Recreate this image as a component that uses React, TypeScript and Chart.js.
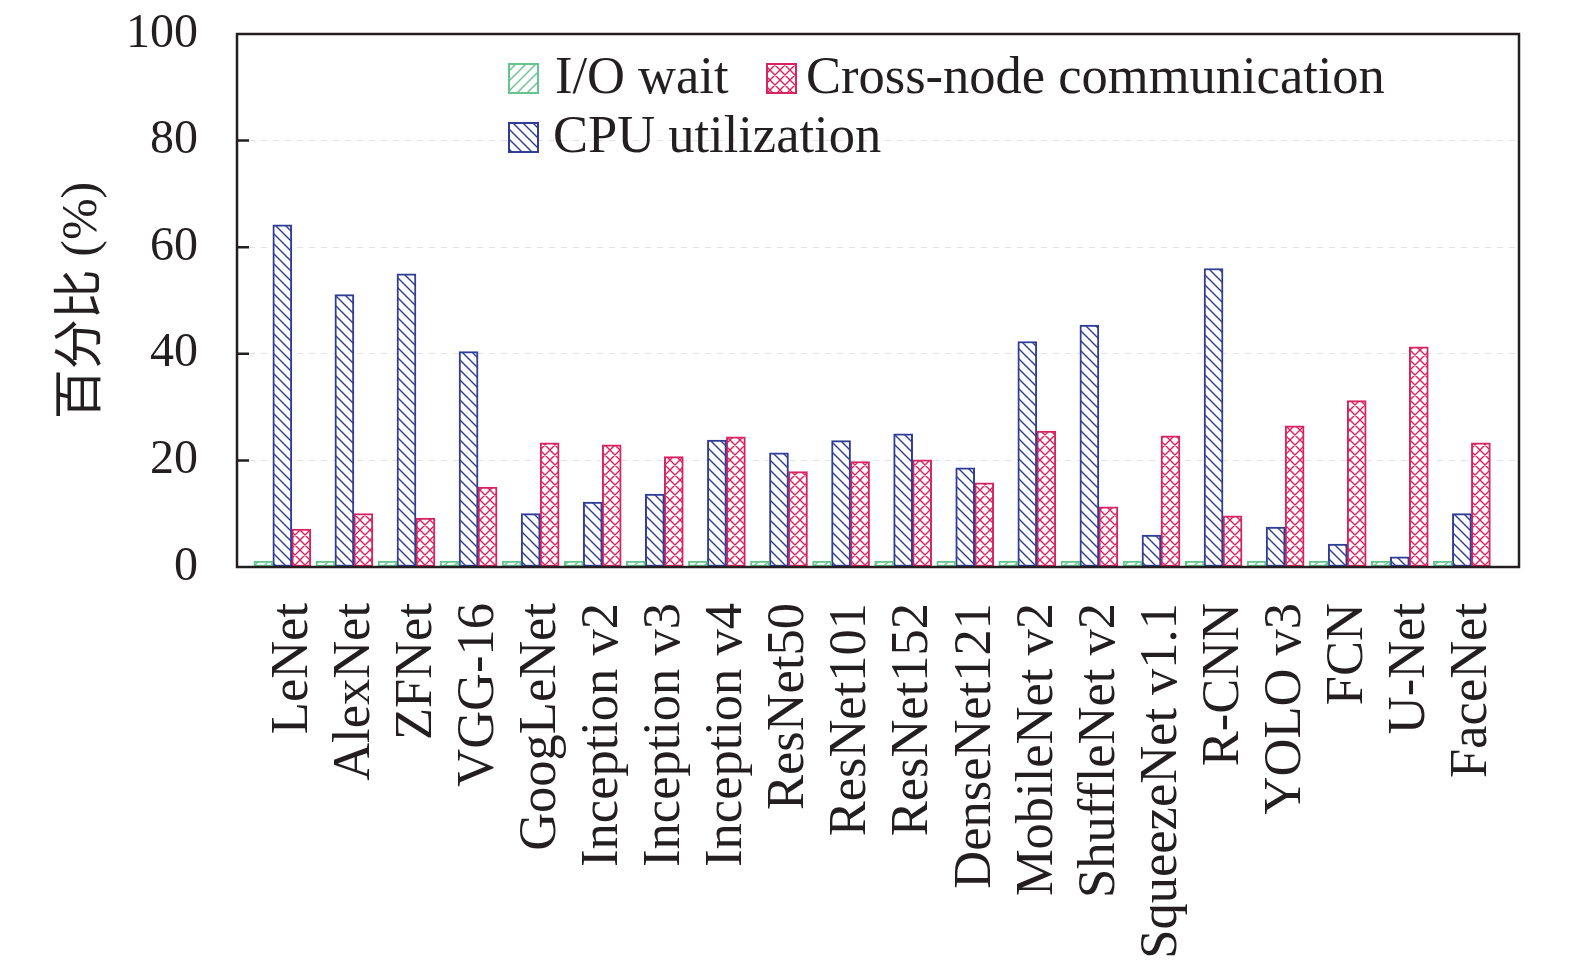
import { useEffect, useRef } from "react"
import { Chart, registerables } from "chart.js"

Chart.register(...registerables)

const models = [
  "LeNet",
  "AlexNet",
  "ZFNet",
  "VGG-16",
  "GoogLeNet",
  "Inception v2",
  "Inception v3",
  "Inception v4",
  "ResNet50",
  "ResNet101",
  "ResNet152",
  "DenseNet121",
  "MobileNet v2",
  "ShuffleNet v2",
  "SqueezeNet v1.1",
  "R-CNN",
  "YOLO v3",
  "FCN",
  "U-Net",
  "FaceNet",
]

const ioWait = [1.1, 1.1, 1.1, 1.1, 1.1, 1.1, 1.1, 1.1, 1.1, 1.1, 1.1, 1.1, 1.1, 1.1, 1.1, 1.1, 1.1, 1.1, 1.1, 1.1]
const cpuUtil = [64.2, 51.1, 55.0, 40.4, 10.0, 12.2, 13.7, 23.8, 21.4, 23.7, 25.0, 18.6, 42.3, 45.4, 6.0, 56.0, 7.5, 4.3, 1.9, 10.0]
const crossNode = [7.1, 10.0, 9.2, 15.0, 23.3, 22.9, 20.7, 24.4, 17.9, 19.8, 20.1, 15.8, 25.5, 11.3, 24.6, 9.6, 26.5, 31.2, 41.3, 23.3]

const yTicks = [20, 40, 60, 80]

const GREEN = "#66c48f"
const BLUE = "#2f3d96"
const RED = "#d7245f"
const INK = "#231f20"
const SERIF = "'Liberation Serif', 'Times New Roman', 'Noto Sans CJK SC', serif"

type Kind = "fwd" | "back" | "cross"

function hatch(color: string, kind: Kind, s: number, lw: number) {
  const c = document.createElement("canvas")
  c.width = s
  c.height = s
  const g = c.getContext("2d")!
  g.fillStyle = "#fff"
  g.fillRect(0, 0, s, s)
  g.strokeStyle = color
  g.lineWidth = lw
  g.beginPath()
  if (kind === "back" || kind === "cross") {
    for (let k = -1; k <= 1; k++) {
      g.moveTo(-1, -1 + k * s)
      g.lineTo(s + 1, s + 1 + k * s)
    }
  }
  if (kind === "fwd" || kind === "cross") {
    for (let k = 0; k <= 2; k++) {
      g.moveTo(-1, k * s + 1)
      g.lineTo(s + 1, k * s - s - 1)
    }
  }
  g.stroke()
  return g.createPattern(c, "repeat")!
}

export default function App() {
  const chartRef = useRef<HTMLCanvasElement>(null)
  const chartInstance = useRef<Chart | null>(null)

  useEffect(() => {
    document.body.style.margin = "0"
    if (!chartRef.current) return
    if (chartInstance.current) chartInstance.current.destroy()
    const ctx = chartRef.current.getContext("2d")
    if (!ctx) return

    const greenFill = hatch(GREEN, "fwd", 10, 1.4)
    const blueFill = hatch(BLUE, "back", 10, 1.4)
    const redFill = hatch(RED, "cross", 10, 1.4)

    const frame = {
      id: "frame",
      afterDatasetsDraw(chart: Chart) {
        const { ctx: c, chartArea: a } = chart
        const y = chart.scales.y
        c.save()
        c.strokeStyle = INK
        c.lineWidth = 2.5
        c.strokeRect(a.left, a.top, a.right - a.left, a.bottom - a.top)
        c.beginPath()
        yTicks.forEach((t) => {
          const py = y.getPixelForValue(t)
          c.moveTo(a.left, py)
          c.lineTo(a.left + 12, py)
        })
        c.stroke()
        c.restore()
      },
      afterDraw(chart: Chart) {
        const c = chart.ctx
        const items = [
          { x: 509, y: 64, fill: greenFill, color: GREEN, text: "I/O wait", tx: 555, ty: 93 },
          { x: 767, y: 64, fill: redFill, color: RED, text: "Cross-node communication", tx: 806, ty: 93 },
          { x: 509, y: 123, fill: blueFill, color: BLUE, text: "CPU utilization", tx: 553, ty: 152 },
        ]
        c.save()
        c.font = `52.5px ${SERIF}`
        c.textBaseline = "alphabetic"
        items.forEach((it) => {
          c.fillStyle = it.fill
          c.fillRect(it.x, it.y, 29, 29)
          c.strokeStyle = it.color
          c.lineWidth = 2
          c.strokeRect(it.x, it.y, 29, 29)
          c.fillStyle = INK
          c.fillText(it.text, it.tx, it.ty)
        })
        c.restore()
      },
    }

    const pts = (vals: number[]) => vals.map((v, i) => ({ x: i, y: v }))

    chartInstance.current = new Chart(ctx, {
      type: "bar",
      data: {
        datasets: [
          { label: "I/O wait", data: pts(ioWait), backgroundColor: greenFill, borderColor: GREEN, borderWidth: 2, borderSkipped: false, barThickness: 19 },
          { label: "CPU utilization", data: pts(cpuUtil), backgroundColor: blueFill, borderColor: BLUE, borderWidth: 2, borderSkipped: false, barThickness: 19 },
          { label: "Cross-node communication", data: pts(crossNode), backgroundColor: redFill, borderColor: RED, borderWidth: 2, borderSkipped: false, barThickness: 19 },
        ],
      },
      options: {
        responsive: true,
        maintainAspectRatio: false,
        animation: false,
        layout: { padding: { top: 34, right: 56, left: 0, bottom: 0 } },
        plugins: {
          legend: { display: false },
          tooltip: { enabled: false },
        },
        scales: {
          x: {
            type: "linear",
            offset: false,
            min: -0.73,
            max: 19.92,
            bounds: "data",
            grid: { display: false, drawTicks: false, offset: false },
            border: { display: false },
            afterBuildTicks: (scale: any) => {
              scale.ticks = models.map((_, i) => ({ value: i + 0.17 }))
            },
            afterFit: (scale: any) => {
              scale.height = 973 - 567
              scale.paddingLeft = 0
              scale.paddingRight = 0
            },
            ticks: {
              autoSkip: false,
              maxRotation: 90,
              minRotation: 90,
              padding: 36,
              color: INK,
              font: { family: SERIF, size: 52.5 },
              callback: (_v: any, i: number) => models[i] ?? "",
            },
          },
          y: {
            min: 0,
            max: 100,
            grid: { color: "#e4e4e4", lineWidth: 1, drawTicks: false },
            border: { display: false, dash: [6, 6] },
            afterFit: (scale: any) => {
              scale.width = 237
              scale.paddingTop = 0
              scale.paddingBottom = 0
            },
            ticks: {
              stepSize: 20,
              padding: 39,
              color: INK,
              font: { family: SERIF, size: 48 },
            },
            title: {
              display: true,
              text: "百分比 (%)",
              color: INK,
              padding: { top: 53, bottom: 0 },
              font: { family: SERIF, size: 50 },
            },
          },
        },
      },
      plugins: [frame],
    })

    return () => {
      if (chartInstance.current) {
        chartInstance.current.destroy()
        chartInstance.current = null
      }
    }
  }, [])

  return (
    <div style={{ width: "1575px", height: "973px", position: "relative", background: "#fff" }}>
      <canvas ref={chartRef} />
    </div>
  )
}
